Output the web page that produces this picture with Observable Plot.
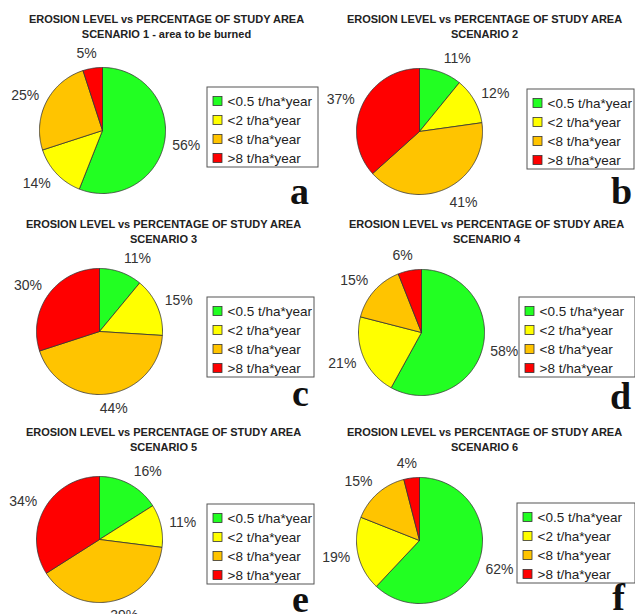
<!DOCTYPE html>
<html>
<head>
<meta charset="utf-8">
<script src="https://cdn.jsdelivr.net/npm/d3@7"></script>
<script src="https://cdn.jsdelivr.net/npm/@observablehq/plot@0.6"></script>
<style>
  html, body { margin: 0; padding: 0; background: #fff; }
  #wrap { position: relative; width: 635px; height: 614px; overflow: hidden; background: #fff; }
  #wrap svg { position: absolute; overflow: visible; }
</style>
</head>
<body>
<div id="wrap"></div>
<script>
// ---- data ----
const titleLine = "EROSION LEVEL vs PERCENTAGE OF STUDY AREA";
const scenarios = ["SCENARIO 1 - area to be burned", "SCENARIO 2", "SCENARIO 3", "SCENARIO 4", "SCENARIO 5", "SCENARIO 6"];
const panelLetters = ["a", "b", "c", "d", "e", "f"];
const categories = ["<0.5 t/ha*year", "<2 t/ha*year", "<8 t/ha*year", ">8 t/ha*year"];
const colors = ["#22ff22", "#ffff00", "#ffc400", "#ff0000"];
const scenario1 = [56, 14, 25, 5];
const scenario2 = [11, 12, 41, 37];
const scenario3 = [11, 15, 44, 30];
const scenario4 = [58, 21, 15, 6];
const scenario5 = [16, 11, 39, 34];
const scenario6 = [62, 19, 15, 4];
const allValues = [scenario1, scenario2, scenario3, scenario4, scenario5, scenario6];

// ---- layout (panel-local pixel space) ----
const layout = [
  {ox: 0,   oy: 0,   w: 320, h: 205, cx: 102, cy: 130, tx: 166, ty: 19, lx: 207, ly: 87, lw: 111, letterX: 299, letterY: 203},
  {ox: 320, oy: 0,   w: 315, h: 205, cx: 99,  cy: 131, tx: 164, ty: 19, lx: 207, ly: 89, lw: 107, letterX: 301, letterY: 203},
  {ox: 0,   oy: 205, w: 320, h: 205, cx: 99,  cy: 126, tx: 163, ty: 19, lx: 207, ly: 92, lw: 107, letterX: 300, letterY: 200},
  {ox: 320, oy: 205, w: 315, h: 205, cx: 101, cy: 127, tx: 166, ty: 19, lx: 199, ly: 92, lw: 116, letterX: 300, letterY: 203},
  {ox: 0,   oy: 410, w: 320, h: 204, cx: 99,  cy: 129, tx: 163, ty: 22, lx: 207, ly: 94, lw: 107, letterX: 300, letterY: 201},
  {ox: 320, oy: 410, w: 315, h: 204, cx: 99,  cy: 130, tx: 164, ty: 22, lx: 197, ly: 93, lw: 118, letterX: 298, letterY: 199}
];
const R = 63;
const rowGap = 19;

const wrap = document.getElementById("wrap");

allValues.forEach((vals, i) => {
  const L = layout[i];
  const total = d3.sum(vals);
  // slice polygons
  const pts = [];
  const labels = [];
  let acc = 0;
  vals.forEach((v, k) => {
    const a0 = acc / total * 2 * Math.PI;
    acc += v;
    const a1 = acc / total * 2 * Math.PI;
    const cat = categories[k];
    pts.push({cat, x: L.cx, y: L.cy});
    const n = Math.max(2, Math.ceil((a1 - a0) / (Math.PI / 180)));
    for (let j = 0; j <= n; j++) {
      const a = a0 + (a1 - a0) * j / n;
      pts.push({cat, x: L.cx + R * Math.sin(a), y: L.cy - R * Math.cos(a)});
    }
    pts.push({cat, x: L.cx, y: L.cy});
    // label
    const am = (a0 + a1) / 2;
    const ux = Math.sin(am), uy = -Math.cos(am);
    const txt = v + "%";
    const tw = 7.8 * (txt.length - 1) + 12.4;
    const d = 8;
    const kx = Math.max(-1, Math.min(1, ux * 3));
    labels.push({
      text: txt,
      x: L.cx + (R + d) * ux + kx * tw / 2,
      y: L.cy + (R + d) * uy + uy * 7
    });
  });

  const titles = [
    {text: titleLine, x: L.tx, y: L.ty},
    {text: scenarios[i], x: L.tx, y: L.ty + 15}
  ];
  const legendBox = [{x1: L.lx, x2: L.lx + L.lw, y1: L.ly, y2: L.ly + 80}];
  const legendRows = categories.map((c, k) => ({
    cat: c,
    sx1: L.lx + 6, sx2: L.lx + 15,
    sy1: L.ly + 14 + k * rowGap - 4.5, sy2: L.ly + 14 + k * rowGap + 4.5,
    tx: L.lx + 20, ty: L.ly + 14 + k * rowGap
  }));

  const svg = Plot.plot({
    width: L.w,
    height: L.h,
    margin: 0,
    x: {domain: [0, L.w], range: [0, L.w], axis: null},
    y: {domain: [0, L.h], range: [0, L.h], axis: null},
    color: {domain: categories, range: colors},
    style: {fontFamily: "'Liberation Sans', Arial, sans-serif", background: "transparent"},
    marks: [
      Plot.line(pts, {x: "x", y: "y", z: "cat", fill: "cat", stroke: "#333", strokeWidth: 0.8, strokeLinejoin: "round"}),
      Plot.text(labels, {x: "x", y: "y", text: "text", fontSize: 14, fill: "#333", textAnchor: "middle", lineAnchor: "middle"}),
      Plot.text(titles, {x: "x", y: "y", text: "text", fontSize: 11, fontWeight: "bold", fill: "#222", textAnchor: "middle", lineAnchor: "middle"}),
      Plot.rect(legendBox, {x1: "x1", x2: "x2", y1: "y1", y2: "y2", fill: "white", stroke: "#555", strokeWidth: 1}),
      Plot.rect(legendRows, {x1: "sx1", x2: "sx2", y1: "sy1", y2: "sy2", fill: "cat", stroke: "#333", strokeWidth: 0.8, inset: 0}),
      Plot.text(legendRows, {x: "tx", y: "ty", text: "cat", fontSize: 13.5, fill: "#222", textAnchor: "start", lineAnchor: "middle"}),
      Plot.text([panelLetters[i]], {x: () => L.letterX, y: () => L.letterY, text: d => d, fontSize: 38, fontWeight: "bold", fontFamily: "'Liberation Serif', 'Times New Roman', serif", fill: "#111", textAnchor: "middle", lineAnchor: "bottom"})
    ]
  });
  svg.style.left = L.ox + "px";
  svg.style.top = L.oy + "px";
  wrap.appendChild(svg);
});
</script>
</body>
</html>
